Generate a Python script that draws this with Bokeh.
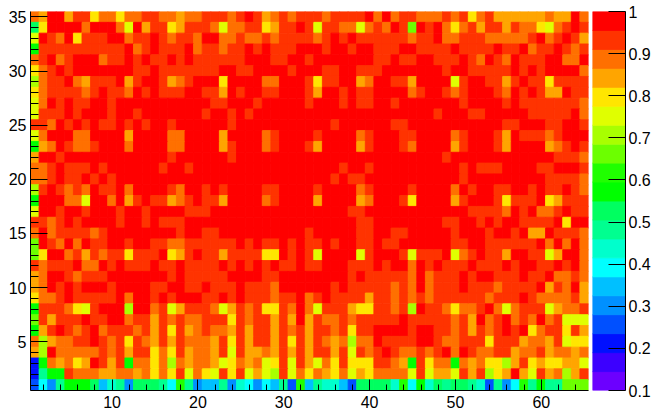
from bokeh.plotting import figure
from bokeh.layouts import row
from bokeh.models import FixedTicker, LinearColorMapper, ColumnDataSource, LinearAxis, Range1d
from bokeh.transform import transform
from bokeh.embed import file_html
from bokeh.resources import INLINE

# Colour levels, from the top of the palette (1.0) to the bottom (0.1)
LEVEL_CODES = "ROAGYLKJHFMNPCSTUBVW"
PALETTE_TOP_DOWN = ["#ff0000", "#ff3300", "#ff7000", "#ffa500", "#ffe600", "#e0ff00", "#a8ff00",
                    "#6cff00", "#20ff00", "#00ff00", "#00ff60", "#00ff90", "#00ffcc", "#00ffff",
                    "#00c0ff", "#0090ff", "#0050ff", "#0010ff", "#3c00ff", "#6c00ff"]
Z_MIN = 0.1
Z_MAX = 1.0
X_TICKS = [10, 20, 30, 40, 50, 60]
X_MINOR = list(range(2, 66, 2))
Y_TICKS = [5, 10, 15, 20, 25, 30, 35]
Y_MINOR = list(range(1, 36))
Z_TICKS = [0.1, 0.2, 0.3, 0.4, 0.5, 0.6, 0.7, 0.8, 0.9, 1.0]

# Each row holds the level code of bins x = 1..65, top row y = 35, bottom row y = 1
ROWS = [
 "A G RR G OO Y AA Y AA OO AA G AA OO  O A O R O G A O A OOO A OOOO R A R A OO AAA  O A O Y A O GGGGGG A GG R A",
 "M Y RRRR A RRR A L R G OO Y G OOO A  L AA OO Y G OO R O L OO AA L A O A R O J R O R  A Y A O G OO G O AA Y L A O R O",
 "L R O A R Y OOO RR A OO R O A OO A RR  AA O AA O A OOOO A O R O R OOOOOO A OO R  AA OOO AAAAA O R A O R O G",
 "F OOOOOOOOOO R A O R OOO R A OO  A OO R O R OOO RRR O RR O RR OOO RR OOO  O R OOOO R OO R A OO R O A O",
 "A O R A O RRR A OO R O R OO R O R OOO  OOO RRR OO RR O RRRRRRR OO R OO RR O  OO R O A R O A R OOO RR AA R",
 "Y A O R O RRRRRRR OO R OOOOOOO  RR OO RRRR O RRR OO RR OOO RRRRRRR  O RR OOOOO R O R O RRRR A",
 "K A OO R A G OOO R G O RR O G A O RRR  Y RRRR AA RRR O Y OO RR G A RR OO G RRR  R L O RR OO G O R OO Y OOOO",
 "Y A OOOO A O R OO A R O R OOO RR OO  G R O RR OO RRR O G RR O R OO RRRR A O RR  O A O RRR O A R O R O GG R OO",
 "L A R O R OO RR O RRRRRRRRRRR O  O RRR O RRRRR O RRR O R OO RR O RRRRR  RR O RRRR O R OOOOOOO A",
 "L OOO R O RRR O RR O RRRRRRR O R  R O R O RRRRRRRRRRRRRRRRRRRRR O  RRR OO RRRRR OOOOO R A",
 "OO A R O R O R OO R O R O RR O RRRRR  R O RRRRRRRRRRR O RRRRRR OO RRRR  RRRRRRR OO RRR OO RR O",
 "L A RRR AA RRRR G RRRR AA RRRR  G RRRR A O RRRR O RRRR A O RRR OO RRR  R A O RRR O G R OOO A O RRR",
 "F G A R O AA O RRR A RRRR AA RRRR  G O RRR A O RRR O G RRRR G O RRR O A RRR  R G O RRR O G RRRR G A O R O",
 "G RR O RRRRRRRRRRRR O RRRRR  R O RRRRRRRRRRRRRRRRRRRRRRRR  O RRRRRRRRRRRR OOO A",
 "AA O R OOO R O RRRRRR O RR O RRR  RRRRRRRRRRRRRR O RR O RRRRRRRR  RR O R OOO RRRR OO RRR O",
 "AA O R OO R O R O RRRRRRRRRRRR  RRRRRRRRRRRRR O R OO RRRRRRRRR  RR O RRRRRRRRR OOOO A",
 "K O R O A O A R OO R A RRRR O A RR O R  O RRRR OO RRRR O RRRR A O RRRR O RRR  R A R O RR OO RR O R OO R O A",
 "F RRR AA L RR A R G O R OO G A O R OO  G RRRR A O RRRR G RRRR G A RRR O Y RRR  R G O RRR O Y OOO R Y G OOO",
 "L RR O RR O RRR O RR O RRRR OOO R  RRRRRRRRRRRRRRR OO RRRRRRRRR  RRR OOOO A R O R AA O R OO",
 "OO A O R O RRRR O RR O R OOO RRRR  RRRRRRRRRRRRRRRR OO RRRRRRRR  OO RR O R O RR OOOO R Y RR",
 "A R A OOOO A O RRRRRRRR O RR OO  RRRRRRRRRR O RRRRR OO RR OO RRRR  R O RRR O RR O R GG R OOO A",
 "J R O A R A R OO RR O RR OO AA OOOO  OO R O R OO R O R OO R O RR OO R OO RRRRR  R OO RR OOOOOO R A R A R A",
 "J Y RR A O G O A OO Y OOO R Y G O R OO  G OOOO YY R O R O L RRRR L O RRR O L OOO  R L A O R OO G RR OO L G RR A",
 "O A OOO R AA R O R OOO R OO R OOOO  R O R O R O R OO R OO RRR OOO R O RR A R O R  OOO R OOO R O RR OO R O R A",
 "G A RR O A OOO RRRRRRR O R OOOO  O RRRR OO RRRRRRRR O R OOOOO A R A O  OO R O RR OOO R OO R AA O A",
 "G A R O R O RRR O RRRR OO RR OO R O  OO R OOO A RRRRRR O R OOOOO A O A R A O  OO R OOO A OOOO R G O A R G",
 "Y AA O R OOOOO R A RR O R O RRR OO  R O R OOO A OO R A O R OOOO G OO A O A O A O  OOOOO A OOO R O AAAA O G",
 "F OOO A Y L O RRR K RR A O L G OOO A  L G O A O YY O A R A L OOO G YY OO A O K R OO  A Y AA O R A L A OOO L G AA O",
 "J O G OOO R OO RR A OO G O A O AA OO  O Y O A OO G O G R G O AA O A OOOOO R OOOO  O A O G R A O R A O A R A O LLL",
 "F G O R O A O R A OOO A O G O Y O G A O A  A G O G OO G O A O G OO A O Y OO RRRR O RR O  O A O G O A O R O R Y A OO Y O G",
 "A K G AA OO R O A O Y O A G O G O AAA G  O Y O G OO G O Y O G O A G A K AA R OOOO RR O  AA OOO Y OOO G AA G O L YY",
 "G K R AAAAA O A O G OO Y A Y O G AA G  O L O GG A G O G O G OO G O L O A O R O AA O A O  R A R O AA OO G AA O G AA G A",
 "B F A G A Y G R O G O F AA Y A K A G AA G  L Y A G A L Y O L O G L A Y O YYY OO A G F O Y A  A F A G A YY K G O Y G YY GG L",
 "B N FF O AAA GG AA G A Y A Y O L A Y L  O Y O L G L K O L A Y A G Y A L G Y AAAA L O L G  G L O G O K Y G R G L O G A K G O",
 "U C T N FFF M S P N T MMM N C H N T SS  N T P C T C S N U H S N PP S U MMMM P H C F P M  N MM N P U N T C H N F NN JJJ",
]

rows = [r.replace(" ", "") for r in ROWS]
bad = [(i, len(r)) for i, r in enumerate(rows) if len(r) != 65]
assert not bad, bad

STEP = (Z_MAX - Z_MIN) / len(LEVEL_CODES)
LEVEL_VALUE = {c: Z_MAX - STEP * (i + 0.5) for i, c in enumerate(LEVEL_CODES)}

xs, ys, zs = [], [], []
for i, r in enumerate(rows):
    for j, c in enumerate(r):
        xs.append(j + 1)
        ys.append(35 - i)
        zs.append(LEVEL_VALUE[c])

src = ColumnDataSource(dict(
    left=[x - 0.5 for x in xs], right=[x + 0.5 for x in xs],
    bottom=[y - 0.5 for y in ys], top=[y + 0.5 for y in ys], z=zs))
mapper = LinearColorMapper(palette=PALETTE_TOP_DOWN[::-1], low=Z_MIN, high=Z_MAX)

FONT = "Liberation Sans"
FONT_SIZE = "16px"

p = figure(width=592, height=418, x_range=Range1d(0.5, 65.5), y_range=Range1d(0.5, 35.5),
           toolbar_location=None, output_backend="svg", min_border_left=30, min_border_right=4,
           min_border_top=11, min_border_bottom=28, outline_line_color=None)
p.grid.visible = False
p.quad(left="left", right="right", bottom="bottom", top="top", source=src,
       fill_color=transform("z", mapper), line_color=transform("z", mapper), line_width=0.9)

ax = p.xaxis[0]
ax.ticker = FixedTicker(ticks=X_TICKS, minor_ticks=X_MINOR)
ax.major_tick_in, ax.major_tick_out = 11, 0
ax.minor_tick_in, ax.minor_tick_out = 6, 0
ax.major_label_standoff = 5
ax.major_label_text_font = FONT
ax.major_label_text_font_size = FONT_SIZE
ax.major_label_text_color = "black"

ay = p.yaxis[0]
ay.ticker = FixedTicker(ticks=Y_TICKS, minor_ticks=Y_MINOR)
ay.major_tick_in, ay.major_tick_out = 17, 0
ay.minor_tick_in, ay.minor_tick_out = 8, 0
ay.major_label_standoff = 4
ay.major_label_text_font = FONT
ay.major_label_text_font_size = FONT_SIZE
ay.major_label_text_color = "black"

# Colour palette strip
bar_bottom = [Z_MIN + STEP * i for i in range(len(LEVEL_CODES))]
bar_src = ColumnDataSource(dict(bottom=bar_bottom, top=[b + STEP for b in bar_bottom],
                                color=PALETTE_TOP_DOWN[::-1]))
c = figure(width=63, height=418, x_range=Range1d(0, 1), y_range=Range1d(Z_MIN, Z_MAX),
           toolbar_location=None, output_backend="svg", min_border_left=0, min_border_right=30,
           min_border_top=11, min_border_bottom=28, outline_line_color=None,
           x_axis_location=None, y_axis_location=None)
c.grid.visible = False
c.quad(left=0, right=1, bottom="bottom", top="top", color="color", source=bar_src, line_width=0.9)
az = LinearAxis(ticker=FixedTicker(ticks=Z_TICKS))
az.major_tick_in, az.major_tick_out = 17, 0
az.minor_tick_in, az.minor_tick_out = 0, 0
az.major_label_standoff = 3
az.major_label_text_font = FONT
az.major_label_text_font_size = FONT_SIZE
az.major_label_text_color = "black"
az.major_label_overrides = {1.0: "1", 1: "1"}
c.add_layout(az, "right")

layout = row(p, c, spacing=0)
open("out.html", "w").write(file_html(layout, INLINE))
